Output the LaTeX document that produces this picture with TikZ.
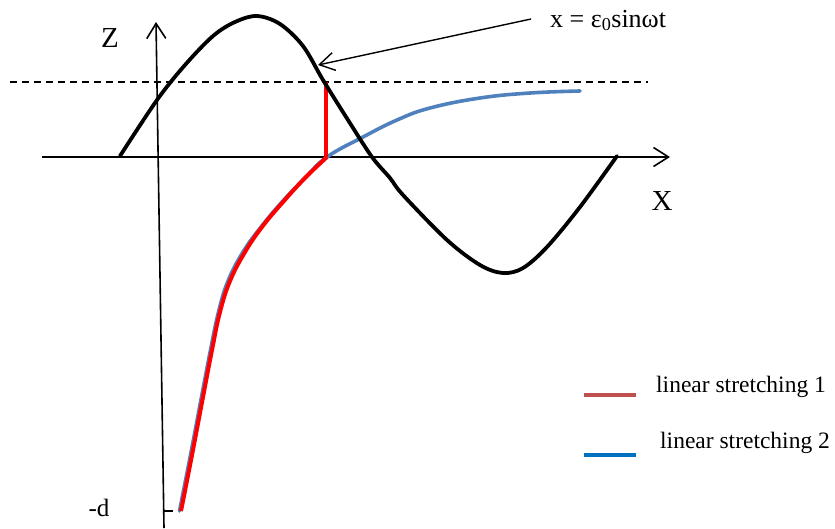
\documentclass[tikz,border=0pt]{standalone}
\usepackage{fontspec}
\setmainfont{Liberation Serif}
\usetikzlibrary{arrows.meta}
\definecolor{legred}{HTML}{C0504D}
\definecolor{legblue}{HTML}{0070C0}
\definecolor{curveblue}{HTML}{4F81BD}
\tikzset{
  axisline/.style={line width=1.6pt, -{Straight Barb[length=15pt,width=19pt,line width=1.6pt]}},
  wave/.style={line width=3.8pt, line cap=round, line join=round},
  bluecurve/.style={line width=3.6pt, curveblue, line cap=round},
  redcurve/.style={line width=4pt, red},
  lbl/.style={inner sep=0pt, font=\fontsize{29}{32}\selectfont},
  legtext/.style={inner sep=0pt, anchor=base west, font=\fontsize{23.5}{26}\selectfont},
  legline/.style={line width=3.6pt},
}
\begin{document}
\begin{tikzpicture}[x=1pt,y=-1pt]
\useasboundingbox (0,0) rectangle (835,528);
% coordinates
\coordinate (zbot) at (164,528);
\coordinate (ztop) at (156,22);
\coordinate (xleft) at (42,157);
\coordinate (xright) at (670,157);
\coordinate (dashL) at (10,82);
\coordinate (dashR) at (648,82);
\coordinate (redtop) at (326,82);
\coordinate (redbot) at (326,157);
\coordinate (ticka) at (164,511);
\coordinate (tickb) at (173,511);
\coordinate (arrstart) at (531,19);
\coordinate (arrend) at (318,65);
% axes
\draw[axisline] (zbot) -- (ztop);
\draw[axisline] (xleft) -- (xright);
\draw[line width=1.3pt, dash pattern=on 7pt off 5pt] (dashL) -- (dashR);
\draw[line width=1.4pt] (ticka) -- (tickb);
% blue curve
\draw[bluecurve] plot[smooth, tension=0.7] coordinates {
 (179.5,511) (190.5,455) (201.5,397) (210.5,350) (218.5,312) (228,281)
 (243,252) (261,227) (282,202) (305,178) (327,157) (363,137) (397,120) (430,108)
 (480,98) (530,93) (580,91)};
% red curve
\draw[redcurve] plot[smooth, tension=0.7] coordinates {
 (181,511) (192,455) (203,397) (212,350) (220,312) (230,281)
 (245,252) (262,227) (283,202) (305,178) (327,157)};
\draw[redcurve] (redbot) -- (redtop);
% black wave
\draw[wave] plot[smooth, tension=0.55] coordinates {
 (120,156) (157,100) (185,65) (213,36) (235,22) (257,16) (280,24)
 (303,46) (323,80) (348,120) (372,157) (390,178) (403,195) (447,240)
 (480,265) (503,273) (523,268) (547,247) (580,207) (617,156)};
% annotation arrow
\draw[line width=1.4pt, -{Straight Barb[length=15pt,width=18pt,line width=1.4pt]}] (arrstart) -- (arrend);
% labels
\node[lbl] (zlab) at (110,38) {Z};
\node[lbl] (xlab) at (662,201) {X};
\node[lbl, font=\fontsize{25}{28}\selectfont] (dlab) at (99,508) {-d};
\node[inner sep=0pt, anchor=base west, font=\fontsize{26}{29}\selectfont] (formula) at (550,27) {x = ε\textsubscript{0}sinωt};
% legend
\coordinate (l1a) at (584,395);
\coordinate (l1b) at (636,395);
\coordinate (l2a) at (584,455);
\coordinate (l2b) at (636,455);
\draw[legline, legred] (l1a) -- (l1b);
\draw[legline, legblue] (l2a) -- (l2b);
\node[legtext] (leg1) at (656,392) {linear stretching 1};
\node[legtext] (leg2) at (660,448) {linear stretching 2};
\end{tikzpicture}
\end{document}
